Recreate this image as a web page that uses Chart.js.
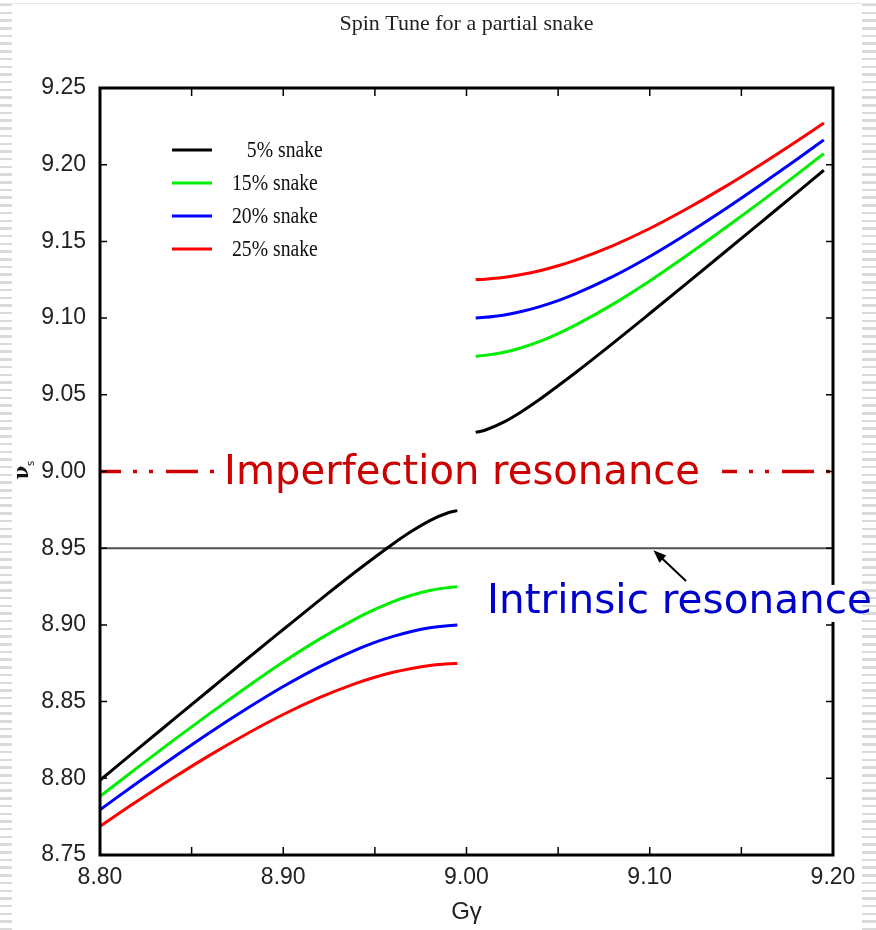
<!DOCTYPE html>
<html>
<head>
<meta charset="utf-8">
<title>Spin Tune for a partial snake</title>
<script src="https://cdn.jsdelivr.net/npm/chart.js@4.4.1/dist/chart.umd.min.js"></script>
<style>
  html, body { margin: 0; padding: 0; background: #fff; }
  #wrap { position: relative; width: 876px; height: 930px; overflow: hidden; }
  .stripes {
    position: absolute; top: 0; bottom: 0;
    background: repeating-linear-gradient(to bottom, transparent 0, transparent 4px, #dadada 4px, #dadada 6.5px, transparent 6.5px, transparent 7.7px);
  }
  #left { left: 0; width: 12px; }
  #right { left: 862px; width: 14px; }
  #topline { position: absolute; left: 0; right: 0; top: 3px; height: 1px; background: #e6e6e6; }
  canvas { position: absolute; left: 0; top: 0; }
</style>
</head>
<body>
<div id="wrap">
  <div class="stripes" id="left"></div>
  <div class="stripes" id="right"></div>
  <div id="topline"></div>
  <canvas id="spinChart" width="876" height="930"></canvas>
</div>
<script>
// G-gamma values of the two branches (below and above the 9.00 resonance)
const gammaLow = [8.80, 8.82, 8.84, 8.86, 8.88, 8.90, 8.92, 8.94, 8.95, 8.96, 8.97, 8.98, 8.99, 8.995];
const gammaHigh = [9.005, 9.01, 9.02, 9.03, 9.04, 9.05, 9.06, 9.08, 9.10, 9.12, 9.14, 9.16, 9.18, 9.195];

const snakeLabels = ['5% snake', '15% snake', '20% snake', '25% snake'];

// spin tune nu_s
const nuLow5 = [8.7987, 8.8185, 8.8382, 8.8579, 8.8776, 8.8970, 8.9163, 8.9351, 8.9441, 8.9529, 8.9610, 8.9680, 8.9731, 8.9745];
const nuHigh5 = [9.0255, 9.0269, 9.0320, 9.0390, 9.0471, 9.0559, 9.0649, 9.0837, 9.1030, 9.1225, 9.1421, 9.1618, 9.1815, 9.1964];
const nuLow15 = [8.7882, 8.8066, 8.8247, 8.8423, 8.8594, 8.8758, 8.8909, 8.9043, 8.9101, 8.9152, 8.9193, 8.9224, 8.9243, 8.9248];
const nuHigh15 = [9.0752, 9.0757, 9.0776, 9.0807, 9.0848, 9.0899, 9.0957, 9.1091, 9.1242, 9.1406, 9.1577, 9.1753, 9.1934, 9.2072];
const nuLow20 = [8.7795, 8.7968, 8.8136, 8.8299, 8.8453, 8.8598, 8.8728, 8.8839, 8.8886, 8.8925, 8.8957, 8.8981, 8.8995, 8.8999];
const nuHigh20 = [9.1001, 9.1005, 9.1019, 9.1043, 9.1075, 9.1114, 9.1161, 9.1272, 9.1402, 9.1547, 9.1701, 9.1864, 9.2032, 9.2162];
const nuLow25 = [8.7687, 8.7848, 8.8003, 8.8151, 8.8289, 8.8416, 8.8527, 8.8620, 8.8659, 8.8691, 8.8716, 8.8735, 8.8746, 8.8749];
const nuHigh25 = [9.1251, 9.1254, 9.1265, 9.1284, 9.1309, 9.1341, 9.1380, 9.1473, 9.1584, 9.1711, 9.1849, 9.1997, 9.2152, 9.2272];

const xTickValues = [8.80, 8.85, 8.90, 8.95, 9.00, 9.05, 9.10, 9.15, 9.20];
const yTickValues = [8.75, 8.80, 8.85, 8.90, 8.95, 9.00, 9.05, 9.10, 9.15, 9.20, 9.25];

// resonance lines and their notes
const imperfectionNu = 9.00;
const intrinsicNu = 8.95;
const imperfectionText = 'Imperfection resonance';
const intrinsicText = 'Intrinsic resonance';

const snakeColors = ['#000000', '#00ee00', '#0000ff', '#ff0000'];
const tickFont = '"Liberation Sans Narrow", "Liberation Sans", sans-serif';

function branchPoints(low, high) {
  const pts = gammaLow.map((g, i) => ({ x: g, y: low[i] }));
  pts.push({ x: 9.0, y: null }); // gap between branches
  gammaHigh.forEach((g, i) => pts.push({ x: g, y: high[i] }));
  return pts;
}

const snakeSeries = [[nuLow5, nuHigh5], [nuLow15, nuHigh15], [nuLow20, nuHigh20], [nuLow25, nuHigh25]];

const datasets = snakeSeries.map((s, i) => ({
  label: snakeLabels[i],
  data: branchPoints(s[0], s[1]),
  borderColor: snakeColors[i],
  borderWidth: 3,
  inLegend: true
}));

datasets.push({
  label: imperfectionText,
  data: [{ x: 8.80, y: imperfectionNu }, { x: 9.20, y: imperfectionNu }],
  borderColor: '#cc0000',
  borderWidth: 3.5,
  borderDash: [32, 12, 4, 12, 4, 13],
  borderDashOffset: 11
});
datasets.push({
  label: intrinsicText,
  data: [{ x: 8.80, y: intrinsicNu }, { x: 9.20, y: intrinsicNu }],
  borderColor: '#505050',
  borderWidth: 2
});

function scaledText(ctx, text, left, baseline, font, targetWidth, color) {
  ctx.font = font;
  const w = ctx.measureText(text).width;
  ctx.save();
  ctx.translate(left, baseline);
  ctx.scale(targetWidth / w, 1);
  ctx.fillStyle = color;
  ctx.textAlign = 'left';
  ctx.textBaseline = 'alphabetic';
  ctx.fillText(text, 0, 0);
  ctx.restore();
}

const decorations = {
  id: 'decorations',
  afterDraw(chart) {
    const { ctx, chartArea: a, scales: { x, y } } = chart;
    ctx.save();
    ctx.setLineDash([]);

    // frame
    ctx.strokeStyle = '#000';
    ctx.lineWidth = 3;
    ctx.strokeRect(a.left, a.top, a.right - a.left, a.bottom - a.top);

    // inward ticks on all four sides
    ctx.lineWidth = 1.5;
    ctx.beginPath();
    x.ticks.forEach(t => {
      const px = x.getPixelForValue(t.value);
      ctx.moveTo(px, a.bottom); ctx.lineTo(px, a.bottom - 8);
      ctx.moveTo(px, a.top); ctx.lineTo(px, a.top + 8);
    });
    y.ticks.forEach(t => {
      const py = y.getPixelForValue(t.value);
      ctx.moveTo(a.left, py); ctx.lineTo(a.left + 7, py);
      ctx.moveTo(a.right, py); ctx.lineTo(a.right - 7, py);
    });
    ctx.stroke();

    // imperfection note on the dashed line
    const yImp = y.getPixelForValue(imperfectionNu);
    const impLeft = x.getPixelForValue(8.8677);
    ctx.fillStyle = '#fff';
    ctx.fillRect(impLeft - 10, yImp - 26, 508, 50);
    scaledText(ctx, imperfectionText, impLeft, yImp + 12, '40px "DejaVu Sans"', 476, '#cc0000');

    // intrinsic note below the line
    const inLeft = x.getPixelForValue(9.0112);
    const inBase = y.getPixelForValue(8.9078);
    ctx.fillStyle = '#fff';
    ctx.fillRect(inLeft - 6, inBase - 28, 858 - inLeft + 6, 37);
    scaledText(ctx, intrinsicText, inLeft, inBase, '40px "DejaVu Sans"', 385, '#0000cc');

    // arrow pointing at the intrinsic line
    const tipX = x.getPixelForValue(9.102), tipY = y.getPixelForValue(intrinsicNu) + 2;
    const tailX = x.getPixelForValue(9.1198), tailY = y.getPixelForValue(8.9286);
    const ang = Math.atan2(tipY - tailY, tipX - tailX);
    ctx.strokeStyle = '#000';
    ctx.fillStyle = '#000';
    ctx.lineWidth = 2;
    ctx.beginPath();
    ctx.moveTo(tailX, tailY);
    ctx.lineTo(tipX - 8 * Math.cos(ang), tipY - 8 * Math.sin(ang));
    ctx.stroke();
    ctx.beginPath();
    ctx.moveTo(tipX, tipY);
    ctx.lineTo(tipX - 13 * Math.cos(ang) + 5 * Math.sin(ang), tipY - 13 * Math.sin(ang) - 5 * Math.cos(ang));
    ctx.lineTo(tipX - 13 * Math.cos(ang) - 5 * Math.sin(ang), tipY - 13 * Math.sin(ang) + 5 * Math.cos(ang));
    ctx.closePath();
    ctx.fill();

    // legend inside the plot
    const legX = a.left + 72;
    ctx.font = '24px "Liberation Serif"';
    const oneW = ctx.measureText('1').width * 0.82;
    chart.data.datasets.filter(d => d.inLegend).forEach((d, i) => {
      const ly = a.top + 62 + i * 33;
      ctx.strokeStyle = d.borderColor;
      ctx.lineWidth = 3;
      ctx.beginPath();
      ctx.moveTo(legX, ly); ctx.lineTo(legX + 40, ly);
      ctx.stroke();
      const pad = /^\d%/.test(d.label) ? oneW + 5 : 0;
      ctx.save();
      ctx.translate(legX + 60 + pad, ly);
      ctx.scale(0.82, 1);
      ctx.fillStyle = '#111';
      ctx.textBaseline = 'middle';
      ctx.fillText(d.label, 0, 1);
      ctx.restore();
    });

    // title
    ctx.font = '22px "Liberation Serif"';
    ctx.fillStyle = '#222';
    ctx.textAlign = 'center';
    ctx.textBaseline = 'alphabetic';
    ctx.fillText('Spin Tune for a partial snake', (a.left + a.right) / 2, 30);

    // y axis title: nu with subscript s
    ctx.save();
    ctx.translate(23, yImp + 1);
    ctx.rotate(-Math.PI / 2);
    ctx.fillStyle = '#111';
    ctx.textAlign = 'center';
    ctx.textBaseline = 'middle';
    ctx.font = 'bold 20px "DejaVu Serif"';
    ctx.fillText('\u03bd', 0, 0);
    ctx.font = '10px "DejaVu Sans"';
    ctx.fillText('s', 9, 8);
    ctx.restore();

    ctx.restore();
  }
};

new Chart(document.getElementById('spinChart'), {
  type: 'scatter',
  data: { datasets: datasets },
  options: {
    responsive: false,
    animation: false,
    devicePixelRatio: 1,
    showLine: true,
    layout: { padding: { top: 88, right: 43, left: 0, bottom: 0 } },
    elements: {
      point: { radius: 0, hoverRadius: 0 },
      line: { cubicInterpolationMode: 'monotone', fill: false }
    },
    plugins: {
      legend: { display: false },
      title: { display: false },
      tooltip: { enabled: false }
    },
    scales: {
      x: {
        type: 'linear',
        min: 8.80,
        max: 9.20,
        afterBuildTicks: scale => { scale.ticks = xTickValues.map(v => ({ value: v })); },
        afterFit: scale => { scale.height = 75; },
        grid: { display: false, drawTicks: false },
        border: { display: false },
        ticks: {
          padding: 9,
          maxRotation: 0,
          autoSkip: false,
          color: '#222',
          font: { family: tickFont, size: 23 },
          callback: v => (Math.round(v * 100) % 10 === 0 ? v.toFixed(2) : '')
        },
        title: {
          display: true,
          text: 'G\u03b3',
          color: '#222',
          font: { family: tickFont, size: 24 },
          padding: { top: 0, bottom: 3 }
        }
      },
      y: {
        type: 'linear',
        min: 8.75,
        max: 9.25,
        afterBuildTicks: scale => { scale.ticks = yTickValues.map(v => ({ value: v })); },
        afterFit: scale => { scale.width = 100; },
        grid: { display: false, drawTicks: false },
        border: { display: false },
        ticks: {
          padding: 14,
          autoSkip: false,
          color: '#222',
          font: { family: tickFont, size: 23 },
          callback: v => v.toFixed(2)
        }
      }
    }
  },
  plugins: [decorations]
});
</script>
</body>
</html>
